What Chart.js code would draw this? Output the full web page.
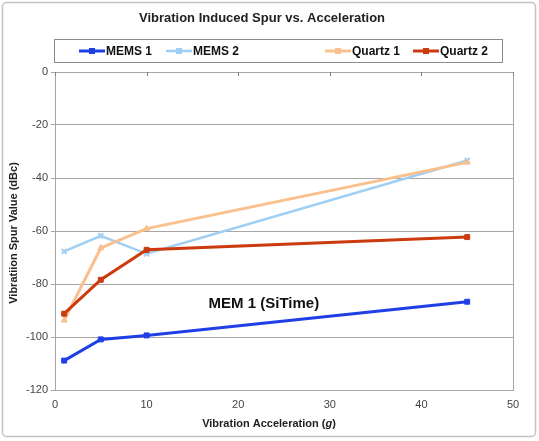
<!DOCTYPE html>
<html><head><meta charset="utf-8">
<script src="https://cdn.jsdelivr.net/npm/chart.js@4"></script>
<style>html,body{margin:0;padding:0;background:#fff}#wrap{width:539px;height:441px;position:relative}</style>
</head><body><div id="wrap"><canvas id="c" width="539" height="441"></canvas></div>
<script>
const accel = [1, 5, 10, 45];
const mems1 = [-108.9, -100.9, -99.4, -86.7];
const mems2 = [-67.7, -61.8, -68.6, -33.4];
const quartz1 = [-93.7, -66.4, -59.1, -34.1];
const quartz2 = [-91.2, -78.4, -67.1, -62.3];
const seriesNames = ['MEMS 1', 'MEMS 2', 'Quartz 1', 'Quartz 2'];
const titleText = 'Vibration Induced Spur vs. Acceleration';
const yTitle = 'Vibratiion Spur Value (dBc)';
const xTitleParts = ['Vibration Acceleration (', 'g', ')'];
const annotationText = 'MEM 1 (SiTime)';
const annotationAt = { x: 22.8, y: -87.5 };

const colors = ['#1f3fe6', '#9fcff2', '#f9c08e', '#cc3a0f'];
const styles = ['rect', 'crossRot', 'triangle', 'rect'];
const widths = [3, 2.5, 3, 3];
const FONT = '"Liberation Sans", Arial, sans-serif';

const toPts = arr => accel.map((x, i) => ({ x, y: arr[i] }));
const allSeries = [mems1, mems2, quartz1, quartz2];

const datasets = allSeries.map((s, i) => ({
  label: seriesNames[i],
  data: toPts(s),
  borderColor: colors[i],
  backgroundColor: colors[i],
  borderWidth: widths[i],
  pointStyle: styles[i],
  pointRadius: 3.5,
  pointBorderWidth: i === 1 ? 2 : 1,
  tension: 0
}));
datasets[0].order = 1; datasets[3].order = 2; datasets[2].order = 3; datasets[1].order = 4;

const deco = {
  id: 'deco',
  beforeDraw(chart) {
    const ctx = chart.ctx;
    ctx.save();
    ctx.fillStyle = '#fff';
    ctx.fillRect(0, 0, chart.width, chart.height);
    ctx.strokeStyle = '#c4c4c4';
    ctx.lineWidth = 1.5;
    ctx.beginPath();
    ctx.roundRect(2.5, 2.5, 533, 434, 4);
    ctx.stroke();
    ctx.restore();
  },
  afterDraw(chart) {
    const ctx = chart.ctx;
    const a = chart.chartArea;
    const xs = chart.scales.x, ys = chart.scales.y;
    ctx.save();
    ctx.strokeStyle = '#a6a6a6';
    ctx.lineWidth = 1;
    ctx.beginPath();
    ctx.moveTo(Math.round(a.right) + 0.5, a.top);
    ctx.lineTo(Math.round(a.right) + 0.5, a.bottom);
    ctx.stroke();
    ctx.strokeStyle = '#808080';
    xs.ticks.forEach(t => {
      const px = Math.round(xs.getPixelForValue(t.value)) + 0.5;
      ctx.beginPath();
      ctx.moveTo(px, a.top);
      ctx.lineTo(px, a.top + 4);
      ctx.stroke();
    });
    ctx.fillStyle = '#222';
    ctx.font = 'bold 13px ' + FONT;
    ctx.textAlign = 'center';
    ctx.textBaseline = 'middle';
    ctx.fillText(titleText, 262, 18);
    ctx.strokeStyle = '#8c8c8c';
    ctx.lineWidth = 1;
    ctx.strokeRect(54.5, 39.5, 448, 23);
    const lx = [79, 166, 325, 413];
    ctx.font = 'bold 12px ' + FONT;
    ctx.textAlign = 'left';
    chart.data.datasets.forEach((d, i) => {
      const x0 = lx[i], y0 = 51;
      ctx.strokeStyle = d.borderColor;
      ctx.lineWidth = d.borderWidth;
      ctx.beginPath();
      ctx.moveTo(x0, y0);
      ctx.lineTo(x0 + 26, y0);
      ctx.stroke();
      ctx.fillStyle = d.borderColor;
      ctx.fillRect(x0 + 10, y0 - 3, 6, 6);
      ctx.fillStyle = '#111';
      ctx.fillText(d.label, x0 + 27, y0 + 0.5);
    });
    ctx.font = 'bold 11px ' + FONT;
    const w0 = ctx.measureText(xTitleParts[0]).width;
    ctx.font = 'italic bold 11px ' + FONT;
    const w1 = ctx.measureText(xTitleParts[1]).width;
    ctx.font = 'bold 11px ' + FONT;
    const w2 = ctx.measureText(xTitleParts[2]).width;
    let sx = 269 - (w0 + w1 + w2) / 2;
    const ty = 424;
    ctx.fillStyle = '#222';
    ctx.fillText(xTitleParts[0], sx, ty);
    ctx.font = 'italic bold 11px ' + FONT;
    ctx.fillText(xTitleParts[1], sx + w0, ty);
    ctx.font = 'bold 11px ' + FONT;
    ctx.fillText(xTitleParts[2], sx + w0 + w1, ty);
    ctx.save();
    ctx.translate(14, (a.top + a.bottom) / 2 + 2);
    ctx.rotate(-Math.PI / 2);
    ctx.textAlign = 'center';
    ctx.fillText(yTitle, 0, 0);
    ctx.restore();
    ctx.font = 'bold 15px ' + FONT;
    ctx.textAlign = 'center';
    ctx.fillStyle = '#111';
    ctx.fillText(annotationText, xs.getPixelForValue(annotationAt.x), ys.getPixelForValue(annotationAt.y));
    ctx.restore();
  }
};

new Chart(document.getElementById('c'), {
  type: 'line',
  data: { datasets },
  options: {
    responsive: false,
    animation: false,
    layout: { padding: { top: 72, left: 6, right: 26, bottom: 12 } },
    plugins: { legend: { display: false }, title: { display: false }, tooltip: { enabled: false } },
    scales: {
      x: {
        type: 'linear', min: 0, max: 50,
        ticks: { stepSize: 10, color: '#444', font: { size: 11, family: FONT }, padding: 8 },
        grid: { display: true, drawOnChartArea: false, drawTicks: false, color: '#a6a6a6' },
        border: { display: true, color: '#a6a6a6' },
        afterFit(s) { s.height = 39; }
      },
      y: {
        type: 'linear', min: -120, max: 0,
        ticks: { stepSize: 20, color: '#444', font: { size: 11, family: FONT }, padding: 3 },
        grid: { color: '#a6a6a6', tickLength: 4, lineWidth: 1 },
        border: { display: true, color: '#a6a6a6' },
        afterFit(s) { s.width = 49; }
      }
    }
  },
  plugins: [deco]
});
</script></body></html>
